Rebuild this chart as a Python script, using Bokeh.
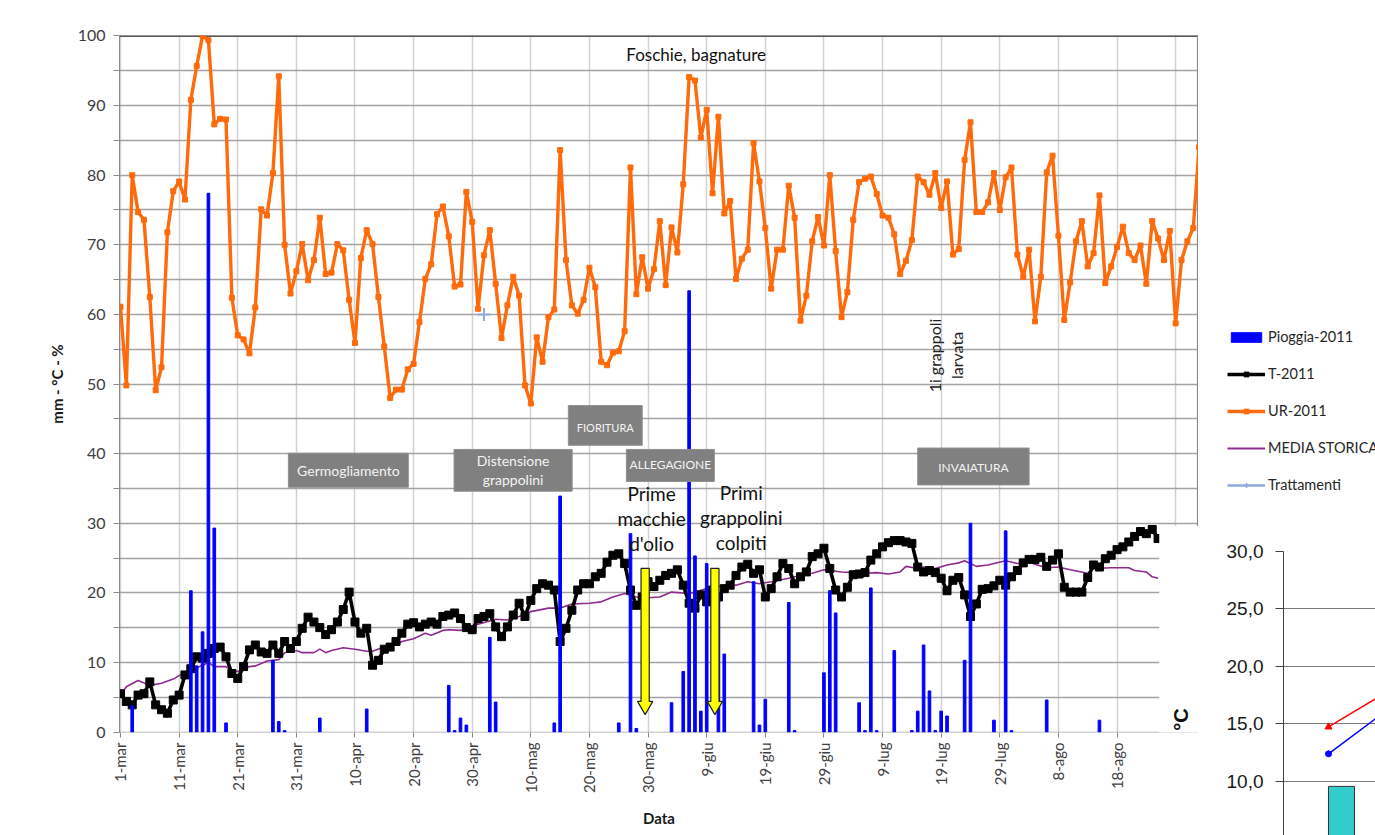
import numpy as np
from bokeh.plotting import figure
from bokeh.models import Range1d, FixedTicker, Legend, LegendItem
from bokeh.layouts import row, column
from bokeh.embed import file_html
from bokeh.resources import INLINE
from bokeh.core.properties import value

FONT = "Lato"

# ---------------- data (day index: 0 = 1-mar-2011) ----------------
tick_days = [0, 10, 20, 30, 40, 50, 60, 70, 80, 90, 100, 110, 120, 130, 140, 150, 160, 170]
tick_labels = ["1-mar", "11-mar", "21-mar", "31-mar", "10-apr", "20-apr", "30-apr",
               "10-mag", "20-mag", "30-mag", "9-giu", "19-giu", "29-giu", "9-lug",
               "19-lug", "29-lug", "8-ago", "18-ago"]

ur_2011 = [61.1, 49.8, 80.0, 74.7, 73.6, 62.5, 49.1, 52.4, 71.8, 77.7,
           79.1, 76.5, 90.8, 95.7, 100.0, 99.4, 87.3, 88.1, 88.0, 62.4,
           57.0, 56.4, 54.4, 61.0, 75.1, 74.2, 80.3, 94.2, 70.0, 63.0,
           66.2, 70.1, 64.9, 67.8, 73.9, 65.8, 66.0, 70.1, 69.2, 62.1,
           55.9, 68.1, 72.1, 70.1, 62.5, 55.4, 48.0, 49.2, 49.2, 52.1,
           52.9, 58.9, 65.1, 67.2, 74.4, 75.5, 71.2, 64.0, 64.3, 77.6,
           73.3, 60.8, 68.5, 72.1, 64.4, 56.6, 61.3, 65.4, 62.7, 49.8,
           47.2, 56.7, 53.2, 59.6, 60.7, 83.6, 67.8, 61.3, 60.1, 62.1,
           66.7, 63.9, 53.2, 52.7, 54.5, 54.7, 57.6, 81.1, 62.9, 68.2,
           63.7, 66.5, 73.4, 64.2, 72.5, 68.9, 78.7, 94.1, 93.6, 85.4,
           89.4, 77.4, 88.4, 74.5, 76.3, 65.1, 68.0, 69.3, 84.6, 79.1,
           72.4, 63.7, 69.3, 69.3, 78.5, 73.9, 59.1, 62.7, 70.5, 74.0,
           69.9, 80.0, 69.1, 59.6, 63.2, 73.6, 79.0, 79.5, 79.8, 77.3,
           74.2, 73.9, 71.5, 65.8, 67.7, 70.7, 79.8, 79.0, 77.2, 80.3,
           75.3, 79.1, 68.6, 69.4, 82.2, 87.6, 74.7, 74.7, 76.1, 80.3,
           75.0, 79.7, 81.1, 68.6, 65.4, 69.3, 59.0, 65.4, 80.4, 82.8,
           71.3, 59.2, 64.6, 70.5, 73.4, 66.9, 68.8, 77.1, 64.5, 66.9,
           69.7, 72.6, 68.8, 67.8, 69.9, 64.4, 73.4, 70.9, 67.8, 72.0,
           58.7, 67.8, 70.5, 72.4, 84.0]

t_2011 = [5.5, 4.4, 3.9, 5.3, 5.5, 7.2, 3.9, 3.2, 2.7, 4.6,
          5.3, 8.2, 9.1, 10.8, 10.6, 11.3, 12.0, 12.2, 10.8, 8.4,
          7.7, 9.4, 11.8, 12.5, 11.5, 11.3, 12.5, 11.3, 13.0, 12.0,
          13.0, 14.9, 16.5, 15.8, 15.0, 14.0, 14.7, 15.8, 17.6, 20.1,
          15.8, 14.2, 14.9, 9.6, 10.3, 11.9, 12.2, 13.0, 14.2, 15.5,
          15.7, 15.1, 15.5, 15.8, 15.5, 16.6, 16.8, 17.1, 16.3, 15.0,
          14.7, 16.3, 16.6, 17.0, 15.1, 13.7, 15.1, 16.8, 18.5, 16.6,
          18.9, 20.6, 21.3, 21.1, 20.4, 13.0, 14.9, 17.5, 20.4, 21.3,
          21.3, 22.3, 22.8, 24.4, 25.4, 25.6, 24.2, 20.4, 18.2, 19.4,
          21.6, 20.9, 21.8, 22.5, 22.8, 23.3, 21.1, 18.5, 17.8, 19.7,
          18.7, 20.4, 19.4, 20.6, 21.1, 22.5, 23.7, 24.1, 22.8, 23.3,
          19.4, 20.6, 22.3, 24.2, 23.5, 21.3, 22.3, 23.0, 25.2, 25.6,
          26.4, 23.5, 20.4, 19.4, 20.8, 22.6, 22.7, 22.9, 24.7, 25.6,
          26.6, 27.2, 27.5, 27.5, 27.3, 27.1, 23.7, 23.0, 23.2, 22.9,
          22.1, 20.3, 21.8, 22.2, 19.7, 16.6, 18.4, 20.5, 20.6, 21.0,
          21.8, 21.1, 22.3, 23.2, 24.3, 24.8, 24.8, 25.1, 23.8, 24.7,
          25.6, 20.8, 20.1, 20.1, 20.1, 22.2, 24.0, 23.7, 24.9, 25.4,
          26.2, 26.6, 27.3, 28.1, 28.8, 28.5, 29.1, 27.8]

media_days = [0, 1, 3, 5, 7, 9, 10, 12, 14, 15, 16, 18, 19, 20, 22, 23, 25, 27, 28, 30,
              31, 33, 34, 35, 36, 38, 40, 42, 43, 45, 47, 48, 50, 52, 53, 55, 56, 58, 59, 61,
              64, 66, 68, 70, 73, 75, 77, 80, 82, 84, 86, 88, 90, 92, 94, 97, 98, 100, 102, 105,
              107, 109, 111, 114, 116, 118, 120, 123, 125, 127, 129, 131, 133, 134, 136, 137, 139, 141, 143, 144,
              146, 148, 149, 151, 153, 155, 156, 158, 160, 162, 165, 166, 169, 172, 173, 175, 176, 177]
media_storica = [5.3, 6.5, 7.4, 6.7, 7.0, 7.6, 8.1, 8.9, 9.6, 10.0, 9.4, 9.4, 8.8, 8.7, 9.4, 9.5, 10.2, 10.4, 11.4, 11.7,
                 11.4, 11.4, 11.9, 11.4, 11.7, 12.1, 11.9, 11.6, 11.6, 12.2, 12.5, 13.0, 13.4, 14.2, 13.9, 14.6, 14.7, 14.6, 14.9, 15.5,
                 16.2, 16.1, 16.6, 17.3, 17.8, 17.8, 18.4, 18.5, 18.7, 19.4, 19.9, 19.4, 19.3, 19.4, 20.1, 19.9, 20.1, 20.6, 20.9, 21.1,
                 21.6, 21.3, 21.6, 22.1, 22.5, 22.8, 23.3, 23.0, 22.9, 22.8, 22.9, 22.7, 23.0, 23.8, 23.5, 23.7, 23.5, 24.0, 24.3, 24.6,
                 23.8, 24.0, 24.2, 24.6, 24.2, 24.4, 24.1, 23.6, 23.7, 23.3, 22.8, 23.5, 23.6, 23.6, 23.2, 23.0, 22.3, 22.1]

rain_days = [2, 12, 13, 14, 15, 16, 18, 26, 27, 28, 34, 42, 56, 57, 58, 59, 63, 64,
             74, 75, 85, 87, 88, 94, 96, 97, 98, 99, 100, 102, 103, 108, 109, 110,
             114, 115, 120, 121, 122, 126, 127, 128, 129, 132, 135, 136, 137, 138,
             139, 140, 141, 144, 145, 149, 151, 152, 158, 167]
pioggia_2011 = [3.8, 20.3, 9.5, 14.4, 77.4, 29.3, 1.3, 10.3, 1.5, 0.2, 2.0, 3.3, 6.7, 0.2, 2.0, 1.0, 13.6, 4.3,
                1.3, 33.9, 1.3, 28.5, 0.5, 4.2, 8.7, 63.4, 25.3, 3.0, 24.2, 20.0, 11.2, 21.6, 1.0, 4.7,
                18.6, 0.2, 8.5, 20.3, 17.1, 4.2, 0.2, 20.7, 0.2, 11.7, 0.2, 3.0, 12.5, 5.9,
                0.2, 3.0, 2.3, 10.3, 30.0, 1.7, 28.9, 0.2, 4.6, 1.7]

tratt_days = [62]
trattamenti = [60.0]

# inset (°C chart, partly visible)
inset_cat = [0]
inset_bar = [9.57]
inset_line_x = [-0.13, 0.87]
inset_red = [14.74, 19.96]
inset_blue = [12.4, 18.9]

phase_labels = ["Germogliamento", "Distensione\ngrappolini", "FIORITURA", "ALLEGAGIONE", "INVAIATURA"]

# ---------------- layout constants ----------------
ORANGE = "#ff6a0a"
PURPLE = "#8e2a8e"
BLUE = "#0000ff"
LTBLUE = "#8fa9dc"
PX_DAY = 5.862

ur_days = list(range(len(ur_2011)))
t_days = list(range(len(t_2011)))

x0 = -0.17
x1 = x0 + 1079 / PX_DAY

p = figure(width=1198, height=835, x_range=Range1d(x0, x1), y_range=Range1d(-0.07, 100.07),
           output_backend="svg", toolbar_location=None,
           min_border_left=119, min_border_right=0, min_border_top=35, min_border_bottom=103)
p.outline_line_color = None
p.frame_align = False

p.xgrid.ticker = FixedTicker(ticks=list(range(0, 190, 10)))
p.xgrid.grid_line_color = "#d2d2d2"
p.xgrid.grid_line_width = 1.5
p.ygrid.ticker = FixedTicker(ticks=list(range(0, 101, 5)))
p.ygrid.grid_line_color = "#a3a3a3"
p.ygrid.grid_line_width = 1.4

# y axis
ya = p.yaxis[0]
ya.ticker = FixedTicker(ticks=list(range(0, 101, 10)), minor_ticks=list(range(5, 100, 10)))
ya.axis_line_color = "#8a8a8a"
ya.major_tick_line_color = "#8a8a8a"
ya.minor_tick_line_color = "#8a8a8a"
ya.major_tick_out = 6
ya.major_tick_in = 0
ya.minor_tick_out = 6
ya.minor_tick_in = 0
ya.major_label_text_font = FONT
ya.major_label_text_font_size = "16px"
ya.major_label_text_color = "#404040"
ya.major_label_standoff = 8
ya.axis_label = "mm - °C - %"
ya.axis_label_text_font = FONT
ya.axis_label_text_font_style = "bold"
ya.axis_label_text_font_size = "15px"
ya.axis_label_text_color = "#1a1a1a"
ya.axis_label_standoff = 9

# x axis
xa = p.xaxis[0]
xa.ticker = FixedTicker(ticks=tick_days)
xa.major_label_overrides = {d: l for d, l in zip(tick_days, tick_labels)}
xa.major_label_orientation = np.pi / 2
xa.axis_line_color = None
xa.major_tick_line_color = "#8a8a8a"
xa.major_tick_out = 5
xa.major_tick_in = 0
xa.minor_tick_line_color = None
xa.major_label_text_font = FONT
xa.major_label_text_font_size = "15px"
xa.major_label_text_color = "#404040"
xa.major_label_standoff = 5
xa.axis_label = "Data"
xa.axis_label_text_font = FONT
xa.axis_label_text_font_style = "bold"
xa.axis_label_text_font_size = "15px"
xa.axis_label_text_color = "#1a1a1a"
xa.axis_label_standoff = 13

# top border line and right border
p.segment(x0=[x0], y0=[100], x1=[x1], y1=[100], line_color="#5a5a5a", line_width=2)
p.segment(x0=[x1 - 0.1], y0=[29.6], x1=[x1 - 0.1], y1=[100.07], line_color="#8a8a8a", line_width=2)

# series
p.line(media_days, media_storica, line_color=PURPLE, line_width=1.6)
p.line(t_days, t_2011, line_color="black", line_width=3.6)
p.scatter(t_days, t_2011, marker="square", size=8, color="black")
p.line(ur_days, ur_2011, line_color=ORANGE, line_width=3.4)
p.scatter(ur_days, ur_2011, marker="square", size=5, color=ORANGE)
p.vbar(x=rain_days, top=pioggia_2011, bottom=0, width=0.45, color=BLUE)
p.scatter(tratt_days, trattamenti, marker="cross", size=13, line_color=LTBLUE, line_width=2)

# yellow arrows
arrow_days = [89.5, 101.4]
a_top, a_head, a_tip = 23.5, 4.4, 2.5
hs, hh = 0.70, 1.30
axs, ays = [], []
for d in arrow_days:
    axs.append([d - hs, d + hs, d + hs, d + hh, d, d - hh, d - hs])
    ays.append([a_top, a_top, a_head, a_head, a_tip, a_head, a_head])
p.patches(axs, ays, fill_color="#ffff00", line_color="#222222", line_width=1.2)

# phase boxes
box_l = [28.64, 56.9, 76.4, 86.3, 136.0]
box_r = [49.1, 77.05, 89.0, 101.3, 155.0]
box_t = [40.05, 40.6, 46.9, 40.6, 40.8]
box_b = [35.17, 34.6, 41.2, 36.0, 35.5]
txt_y = [37.6, 37.65, 43.8, 38.45, 38.05]
txt_size = ["14px", "14px", "11px", "12px", "12px"]
p.quad(left=box_l, right=box_r, top=box_t, bottom=box_b, fill_color="#808080", line_color="#8f8f8f")
for i, lab in enumerate(phase_labels):
    p.text(x=[(box_l[i] + box_r[i]) / 2], y=[txt_y[i]], text=[lab], text_align="center",
           text_baseline="middle", text_color="#f4f4f4", text_font=value(FONT),
           text_font_size=txt_size[i], text_line_height=1.1)

# text annotations
p.text(x=[98.2], y=[97.4], text=["Foschie, bagnature"], text_align="center", text_baseline="middle",
       text_color="#111111", text_font=value(FONT), text_font_size="17px")
p.text(x=[90.6, 105.9], y=[30.7, 30.8], text=["Prime\nmacchie\nd'olio", "Primi\ngrappolini\ncolpiti"],
       text_align="center", text_baseline="middle", text_color="#111111", text_font=value(FONT),
       text_font_size="19px", text_line_height=1.08)
p.text(x=[140.7], y=[54.1], text=["1i grappoli\nlarvata"], angle=np.pi / 2, text_align="center",
       text_baseline="middle", text_color="#222222", text_font=value(FONT), text_font_size="16px",
       text_line_height=1.15)

# inset cover (second chart overlapping the lower-right corner)
p.quad(left=[177.2], right=[x1 + 5], top=[29.6], bottom=[-5], fill_color="white", line_color=None)
p.text(x=[180.9], y=[1.8], text=["°C"], angle=np.pi / 2, text_align="center", text_baseline="middle",
       text_color="#111111", text_font=value("Liberation Sans"), text_font_style="bold", text_font_size="20px")

# ---------------- legend panel ----------------
lg = figure(width=177, height=525, x_range=Range1d(0, 1), y_range=Range1d(0, 1),
            x_axis_type=None, y_axis_type=None, output_backend="svg", toolbar_location=None,
            min_border_left=0, min_border_right=0, min_border_top=0, min_border_bottom=0)
lg.frame_align = False
lg.grid.visible = False
lg.outline_line_color = None
hx, hy = [-10], [-10]
r_p = lg.vbar(x=hx, top=hy, bottom=-20, width=0.1, color=BLUE)
r_tl = lg.line(hx, hy, line_color="black", line_width=3.6)
r_ts = lg.scatter(hx, hy, marker="square", size=8, color="black")
r_ul = lg.line(hx, hy, line_color=ORANGE, line_width=3.4)
r_us = lg.scatter(hx, hy, marker="square", size=5, color=ORANGE)
r_m = lg.line(hx, hy, line_color=PURPLE, line_width=1.8)
r_trl = lg.line(hx, hy, line_color=LTBLUE, line_width=2.5)
r_trs = lg.scatter(hx, hy, marker="cross", size=10, line_color=LTBLUE, line_width=1.5)
legend = Legend(items=[LegendItem(label="Pioggia-2011", renderers=[r_p]),
                       LegendItem(label="T-2011", renderers=[r_tl, r_ts]),
                       LegendItem(label="UR-2011", renderers=[r_ul, r_us]),
                       LegendItem(label="MEDIA STORICA", renderers=[r_m]),
                       LegendItem(label="Trattamenti", renderers=[r_trl, r_trs])],
                location=(29, 32), padding=0, margin=0, spacing=20,
                glyph_width=38, glyph_height=12, label_height=17, label_standoff=3,
                label_text_font=FONT, label_text_font_size="14.5px", label_text_color="#262626",
                border_line_color=None, background_fill_alpha=0)
lg.add_layout(legend, "center")

# ---------------- inset chart ----------------
ins = figure(width=177, height=310, x_range=Range1d(-0.58, 0.34), y_range=Range1d(5.3, 30.0),
             x_axis_type=None, output_backend="svg", toolbar_location=None,
             min_border_left=85, min_border_right=0, min_border_top=26, min_border_bottom=0)
ins.frame_align = False
ins.outline_line_color = None
ins.xgrid.visible = False
iy = ins.yaxis[0]
iy.ticker = FixedTicker(ticks=[10, 15, 20, 25, 30])
iy.major_label_overrides = {10: "10,0", 15: "15,0", 20: "20,0", 25: "25,0", 30: "30,0"}
iy.axis_line_color = "#404040"
iy.major_tick_line_color = "#404040"
iy.major_tick_out = 8
iy.major_tick_in = 0
iy.minor_tick_line_color = None
iy.major_label_text_font = "Liberation Sans"
iy.major_label_text_font_size = "19px"
iy.major_label_text_color = "#1a1a1a"
iy.major_label_standoff = 12
ins.ygrid.ticker = FixedTicker(ticks=[10, 15, 20, 25, 30])
ins.ygrid.grid_line_color = "#7a7a7a"
ins.ygrid.grid_line_width = 1
ins.vbar(x=inset_cat, top=inset_bar, bottom=0, width=0.26, fill_color="#33cccc", line_color="#333333")
ins.line(inset_line_x, inset_red, line_color="#ff0000", line_width=1.5)
ins.scatter(inset_line_x[:1], inset_red[:1], marker="triangle", size=7, color="#ff0000")
ins.line(inset_line_x, inset_blue, line_color="#0000ff", line_width=1.5)
ins.scatter(inset_line_x[:1], inset_blue[:1], marker="circle", size=6, color="#0000ff")

layout = row(p, column(lg, ins, spacing=0), spacing=0)
open("out.html", "w").write(file_html(layout, INLINE))
